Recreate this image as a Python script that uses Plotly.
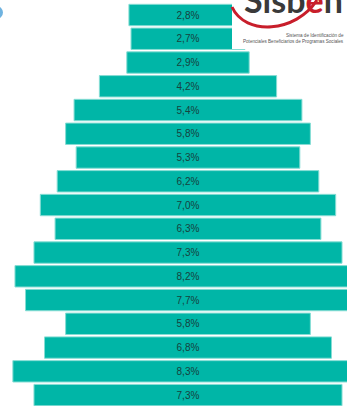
import plotly.graph_objects as go

# age groups, oldest at the top
grupos = ["80+", "75-79", "70-74", "65-69", "60-64", "55-59", "50-54", "45-49",
          "40-44", "35-39", "30-34", "25-29", "20-24", "15-19", "10-14", "5-9", "0-4"]
porcentajes = [2.8, 2.7, 2.9, 4.2, 5.4, 5.8, 5.3, 6.2, 7.0, 6.3, 7.3, 8.2, 7.7, 5.8, 6.8, 8.3, 7.3]
etiquetas = [f"{v:.1f}%".replace(".", ",") for v in porcentajes]

W, H = 347, 406


def px(x, y):
    # pixel position -> paper coords (margins are zero)
    return x / W, 1 - y / H


fig = go.Figure(go.Bar(
    y=grupos,
    x=porcentajes,
    base=[-v / 2 for v in porcentajes],
    orientation="h",
    marker=dict(color="#00B6A7", line=dict(color="#86DDD4", width=1)),
    text=etiquetas,
    textposition="inside",
    insidetextanchor="middle",
    textangle=0,
    textfont=dict(family="Liberation Sans Narrow, Liberation Sans, sans-serif",
                  size=10, color="#17423D"),
    hoverinfo="skip",
))

# logo block top right
x0, y0 = px(232, 49)
x1, y1 = px(W, 0)
shapes = [dict(type="rect", xref="paper", yref="paper", x0=x0, y0=y0, x1=x1, y1=y1,
               fillcolor="white", line=dict(width=0), layer="above")]

pts = [(232, 7), (245, 36), (296, 33), (317, 0)]
p = [px(*q) for q in pts]
path = "M {},{} C {},{} {},{} {},{}".format(p[0][0], p[0][1], p[1][0], p[1][1],
                                            p[2][0], p[2][1], p[3][0], p[3][1])
shapes.append(dict(type="path", xref="paper", yref="paper", path=path,
                   line=dict(color="#C81E2B", width=3), layer="above"))

# bit of a blue circle on the left edge
cx0, cy0 = px(-10, 19)
cx1, cy1 = px(3, 6)
shapes.append(dict(type="circle", xref="paper", yref="paper", x0=cx0, y0=cy0, x1=cx1, y1=cy1,
                   fillcolor="#6FB3E0", line=dict(width=0), layer="above"))

ax, ay = px(293, 22)
bx, by = px(346, 35)
cxx, cyy = px(346, 42)
annotations = [
    dict(text="<b>Sisb<span style='color:#C81E2B'>e</span>n</b>", xref="paper", yref="paper",
         x=ax, y=ay, xanchor="center", yanchor="bottom",
         showarrow=False, font=dict(family="Lato, DejaVu Sans", size=34, color="#3A3A3A")),
    dict(text="Sistema de Identificación de", xref="paper", yref="paper", x=bx, y=by,
         xanchor="right", yanchor="middle", showarrow=False,
         font=dict(family="Liberation Sans Narrow, Liberation Sans", size=4.6, color="#555555")),
    dict(text="Potenciales Beneficiarios de Programas Sociales", xref="paper", yref="paper",
         x=cxx, y=cyy, xanchor="right", yanchor="middle", showarrow=False,
         font=dict(family="Liberation Sans Narrow, Liberation Sans", size=4.6, color="#555555")),
]

fig.update_layout(
    width=W, height=H,
    margin=dict(l=0, r=0, t=0, b=0),
    paper_bgcolor="white", plot_bgcolor="white",
    showlegend=False,
    bargap=0.1,
    xaxis=dict(range=[-4.455, 3.768], visible=False, fixedrange=True),
    yaxis=dict(range=[16.46, -0.632], visible=False, fixedrange=True),
    shapes=shapes,
    annotations=annotations,
)

fig.write_html("out.html", config={"displayModeBar": False},
               post_script="document.body.style.margin='0';document.body.style.overflow='hidden';")
